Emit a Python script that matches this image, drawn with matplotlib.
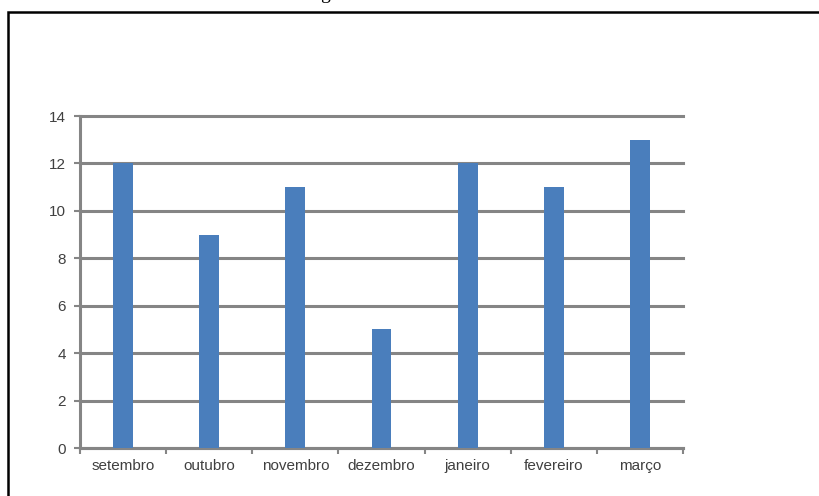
import matplotlib.pyplot as plt
from matplotlib.patches import Rectangle
import numpy as np

months = ['setembro', 'outubro', 'novembro', 'dezembro', 'janeiro', 'fevereiro', 'março']
counts = [12, 9, 11, 5, 12, 11, 13]
yticks = [0, 2, 4, 6, 8, 10, 12, 14]

W, H = 819, 496
fig = plt.figure(figsize=(W / 100, H / 100), dpi=100)
fig.patch.set_facecolor('white')

# outer frame, open to the right and bottom
fig.patches.append(Rectangle((8 / W, -0.2), 2.0, 1.2 - 12 / H,
                             transform=fig.transFigure, fill=False,
                             edgecolor='black', linewidth=1.8, clip_on=False))
# caption line above the frame, mostly cut off
fig.text(320 / W, 1 + 1 / H, 'g', family='Liberation Serif', fontsize=14,
         ha='left', va='baseline', color='black')

ax = fig.add_axes([80 / W, 1 - 448 / H, (683 - 80) / W, (448 - 116) / H])
x = np.arange(len(months))
ax.bar(x, counts, width=0.23, color='#4a7ebc', zorder=3)

ax.set_xlim(-0.5, len(months) - 0.5)
ax.set_ylim(0, 14)
ax.set_yticks(yticks)
ax.yaxis.grid(True, color='#858585', linewidth=2.2, zorder=1)
ax.set_axisbelow(True)
for gl in ax.get_ygridlines():
    gl.set_clip_on(False)

ax.set_xticks(np.arange(len(months) + 1) - 0.5)
ax.set_xticklabels([])
ax.set_xticks(x, minor=True)
ax.set_xticklabels(months, minor=True, family='Liberation Sans')
ax.set_yticklabels([str(v) for v in yticks], family='Liberation Sans')
ax.tick_params(axis='x', which='major', length=4, width=1.5, color='#858585')
ax.tick_params(axis='x', which='minor', length=0, pad=8,
               labelsize=11, labelcolor='#404040')
ax.tick_params(axis='y', length=4, width=1.5, color='#858585',
               labelsize=11, labelcolor='#404040', pad=6)

for side in ['top', 'right']:
    ax.spines[side].set_visible(False)
for side in ['left', 'bottom']:
    ax.spines[side].set_color('#858585')
    ax.spines[side].set_linewidth(2.2)

fig.savefig('out.png', dpi=100, facecolor='white')
